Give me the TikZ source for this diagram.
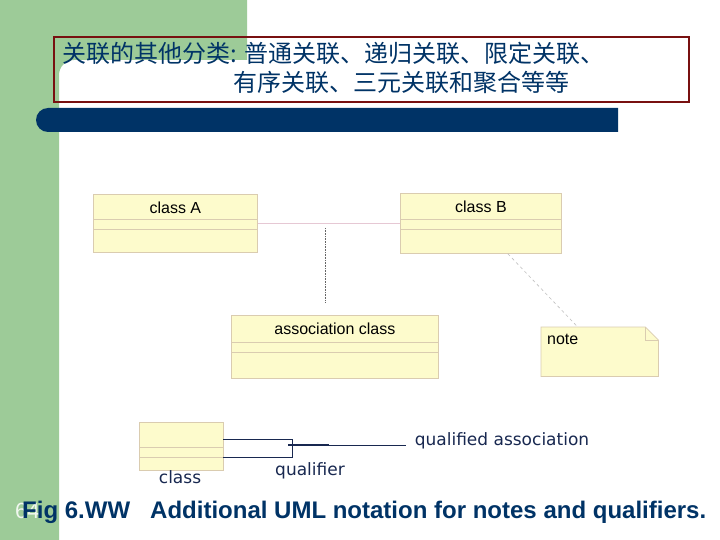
\documentclass[tikz,border=0pt]{standalone}
\usepackage{fontspec}
\setmainfont{Liberation Sans}
\newfontfamily\cjk{Noto Sans CJK SC}
\newfontfamily\handfont{DejaVu Sans}
\usepackage{xcolor}
\usetikzlibrary{calc, positioning}

\definecolor{slidegreen}{RGB}{157,203,152}
\definecolor{slideblue}{RGB}{0,51,102}
\definecolor{boxred}{RGB}{120,16,16}
\definecolor{umlfill}{RGB}{253,251,204}
\definecolor{umlline}{RGB}{218,204,176}
\definecolor{assocpink}{RGB}{230,200,212}
\definecolor{inknavy}{RGB}{24,40,80}

\begin{document}
\begin{tikzpicture}[x=1pt, y=-1pt,
    umlclass/.style={draw=umlline, fill=umlfill, line width=0.8pt, anchor=north west, inner sep=0pt},
    umlname/.style={font=\fontsize{16}{18}\selectfont, inner sep=0pt},
    hand/.style={font=\handfont\fontsize{17}{19}\selectfont, text=inknavy, inner sep=0pt},
    qline/.style={draw=inknavy, line width=0.8pt}]
    \useasboundingbox (0,0) rectangle (720,540);
    \fill[white] (0,0) rectangle (720,540);

    % Nền trang chiếu
    \fill[slidegreen] (0,0) -- (247,0) -- (247,60) -- (74,60) arc (270:180:15)
        -- (59,540) -- (0,540) -- cycle;
    \fill[slideblue] (618,108) -- (48,108) arc (270:90:12) -- (618,132) -- cycle;
    \draw[boxred, line width=1.5pt] (54,37) rectangle (689,102);

    % Tiêu đề
    \node[anchor=base west, inner sep=0pt, text=slideblue, font=\cjk\fontsize{24}{28}\selectfont]
        (titleA) at (62,63) {关联的其他分类: 普通关联、递归关联、限定关联、};
    \node[anchor=base west, inner sep=0pt, text=slideblue, font=\cjk\fontsize{24}{28}\selectfont]
        (titleB) at (233,92) {有序关联、三元关联和聚合等等};

    % Các lớp
    \node[umlclass, minimum width=164pt, minimum height=58pt] (classA) at (93,194) {};
    \node[umlclass, minimum width=161pt, minimum height=60pt] (classB) at (400,193) {};
    \node[umlclass, minimum width=207pt, minimum height=63pt] (assocClass) at (231,315) {};
    \node[umlclass, minimum width=84pt, minimum height=48pt] (qualClass) at (139,422) {};
    \node[umlname] (classAname) at ($(classA.north)+(0,14)$) {class A};
    \node[umlname] (classBname) at ($(classB.north)+(0,14)$) {class B};
    \node[umlname] (assocName) at ($(assocClass.north)+(0,14)$) {association class};

    % Vạch ngăn
    \foreach \c/\a/\b in {classA/25/35, classB/26/36, assocClass/27/37, qualClass/25/35} {
        \draw[umlline, line width=0.8pt] ($(\c.north west)+(0,\a)$) -- ($(\c.north east)+(0,\a)$);
        \draw[umlline, line width=0.8pt] ($(\c.north west)+(0,\b)$) -- ($(\c.north east)+(0,\b)$);
    }

    % Liên kết và lớp liên kết
    \draw[assocpink, line width=1.2pt] (classA.east) -- (classB.west);
    \coordinate (assocFoot) at (325,228);
    \coordinate (assocTip) at (325,302);
    \draw[densely dotted, black!60, line width=0.6pt] (assocFoot) -- (assocTip);

    % Ghi chú
    \node[anchor=north west, minimum width=117pt, minimum height=49pt, inner sep=0pt] (note) at (541,327) {};
    \filldraw[fill=umlfill, draw=umlline, line width=0.8pt] (note.north west)
        -- ($(note.north east)+(-13,0)$) -- ($(note.north east)+(0,13)$)
        -- (note.south east) -- (note.south west) -- cycle;
    \draw[umlline, line width=0.8pt] ($(note.north east)+(-13,0)$) -- ($(note.north east)+(-13,13)$)
        -- ($(note.north east)+(0,13)$);
    \node[umlname, anchor=west] (noteText) at (547,339) {note};
    \draw[black!25, dashed, line width=0.6pt] ($(classB.south)+(27,0)$) -- ($(note.north)+(-22,0)$);

    % Liên kết định danh
    \node[anchor=north west, minimum width=69pt, minimum height=18pt, inner sep=0pt] (qualBox) at (223,439) {};
    \draw[qline] (qualBox.north west) -- (qualBox.north east) -- (qualBox.south east) -- (qualBox.south west);
    \coordinate (qualPin) at (288,445);
    \coordinate (qualKnee) at (329,445);
    \coordinate (qualEnd) at (406,445);
    \draw[qline, line width=2pt] (qualPin) -- (qualKnee);
    \draw[qline] (qualKnee) -- (qualEnd);
    \node[hand] (qualLabel) at (502,441) {qualified association};
    \node[hand] (classLabel) at (180,477) {class};
    \node[hand] (qualifierLabel) at (310,471) {qualifier};

    % Chú thích hình
    \node[anchor=base west, inner sep=0pt, text=white!85!slidegreen, font=\fontsize{22}{26}\selectfont]
        (pageNo) at (15,518) {64};
    \node[anchor=base west, inner sep=0pt, text=slideblue, font=\bfseries\fontsize{24}{28}\selectfont]
        (caption) at (22,518) {Fig 6.WW\ \ \ Additional UML notation for notes and qualifiers.};
\end{tikzpicture}
\end{document}
